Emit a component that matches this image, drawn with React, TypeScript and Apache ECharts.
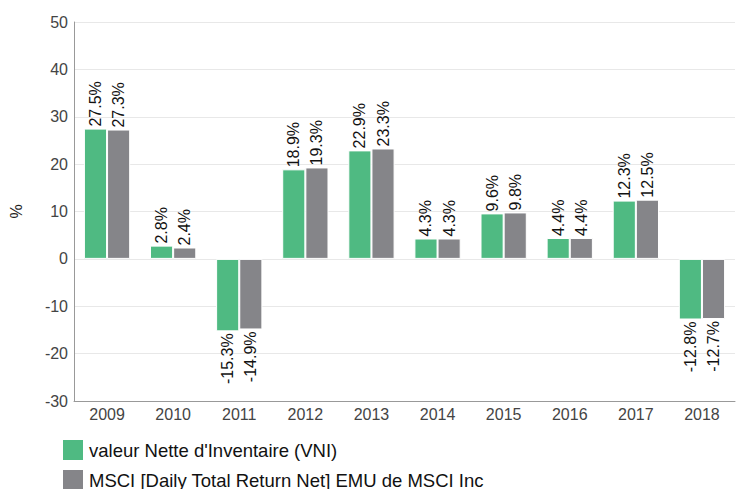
import React, { useEffect, useRef } from "react";
import * as echarts from "echarts";

const categories = ["2009", "2010", "2011", "2012", "2013", "2014", "2015", "2016", "2017", "2018"];
const vniValues = [27.5, 2.8, -15.3, 18.9, 22.9, 4.3, 9.6, 4.4, 12.3, -12.8];
const msciValues = [27.3, 2.4, -14.9, 19.3, 23.3, 4.3, 9.8, 4.4, 12.5, -12.7];
const seriesNames = ["valeur Nette d'Inventaire (VNI)", "MSCI [Daily Total Return Net] EMU de MSCI Inc"];
const seriesColors = ["#4fba82", "#858589"];

const FONT = "Arial, 'Liberation Sans', sans-serif";

function toData(values: number[]) {
  return values.map((v) => ({
    value: v,
    label:
      v >= 0
        ? { position: "top", align: "left", verticalAlign: "middle" }
        : { position: "bottom", align: "right", verticalAlign: "middle" },
  }));
}

export default function App() {
  const ref = useRef<HTMLDivElement>(null);
  useEffect(() => {
    if (!ref.current) return;
    const chart = echarts.init(ref.current, null, { renderer: "svg" });
    const mkSeries = (name: string, values: number[], color: string) => ({
      name,
      type: "bar",
      data: toData(values),
      barGap: "0%",
      barCategoryGap: "30%",
      itemStyle: { color, borderColor: "#ffffff", borderWidth: 1 },
      label: {
        show: true,
        rotate: 90,
        distance: 2,
        fontSize: 16,
        fontFamily: FONT,
        color: "#111",
        formatter: (p: any) => p.value + "%",
      },
    });
    const mkLegend = (name: string, top: number) => ({
      orient: "vertical",
      left: 56,
      top,
      padding: 5,
      itemWidth: 22,
      itemHeight: 22,
      itemGap: 0,
      icon: "rect",
      textStyle: { fontSize: 18.5, fontFamily: FONT, color: "#111" },
      data: [name],
    });
    chart.setOption({
      animation: false,
      grid: { left: 68, right: 8, top: 22, bottom: 88 },
      legend: [mkLegend(seriesNames[0], 433), mkLegend(seriesNames[1], 463)],
      xAxis: {
        type: "category",
        data: categories,
        axisLine: { onZero: false, lineStyle: { color: "#999" } },
        axisTick: { show: false },
        axisLabel: { fontSize: 16, fontFamily: FONT, color: "#444", margin: 5 },
      },
      yAxis: {
        type: "value",
        min: -30,
        max: 50,
        interval: 10,
        name: "%",
        nameLocation: "middle",
        nameRotate: 90,
        nameGap: 50,
        nameTextStyle: { fontSize: 16, fontFamily: FONT, color: "#222" },
        axisLine: { show: true, lineStyle: { color: "#999" } },
        axisTick: { show: false },
        axisLabel: { fontSize: 16, fontFamily: FONT, color: "#444", margin: 6 },
        splitLine: { lineStyle: { color: "#e8e8e8" } },
      },
      series: [
        mkSeries(seriesNames[0], vniValues, seriesColors[0]),
        mkSeries(seriesNames[1], msciValues, seriesColors[1]),
      ],
    });
    return () => chart.dispose();
  }, []);
  return <div ref={ref} style={{ width: 743, height: 489, position: "absolute", left: 0, top: 0 }} />;
}
